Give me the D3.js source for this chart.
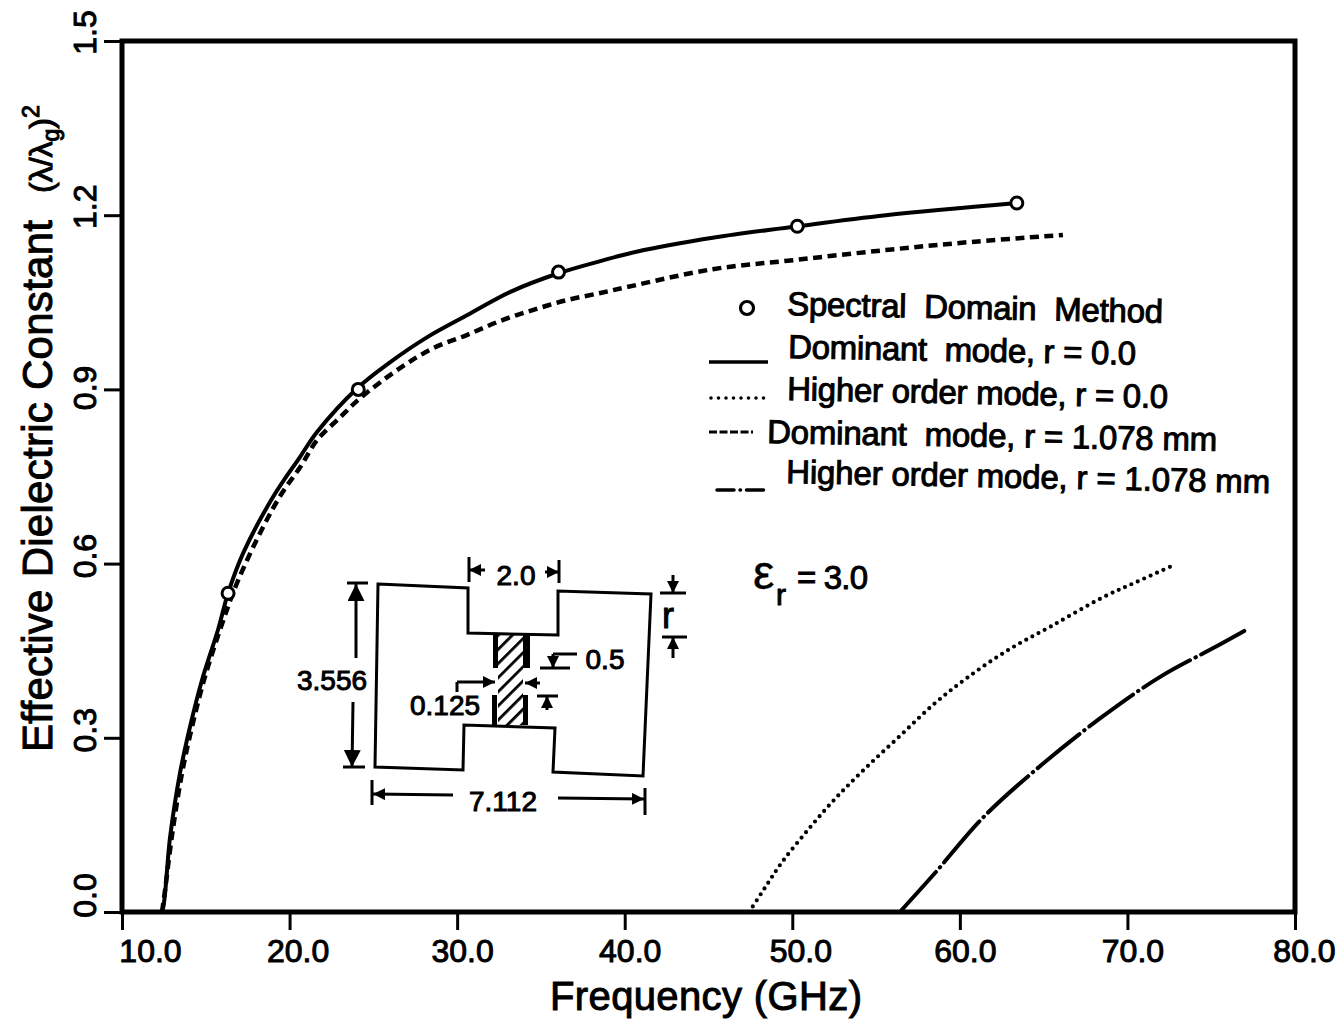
<!DOCTYPE html>
<html>
<head>
<meta charset="utf-8">
<script src="https://cdn.jsdelivr.net/npm/d3@7"></script>
<style>
  html, body { margin: 0; background: #fff; }
  text { font-family: "Liberation Sans", Arial, sans-serif; fill: #000; stroke: #000; stroke-width: 1px; white-space: pre; }
</style>
</head>
<body>
<div id="chart"></div>
<script>
//Tick values and labels
var xTicks = [10, 20, 30, 40, 50, 60, 70, 80];
var xTickLabels = ["10.0", "20.0", "30.0", "40.0", "50.0", "60.0", "70.0", "80.0"];
var yTicks = [0, 0.3, 0.6, 0.9, 1.2, 1.5];
var yTickLabels = ["0.0", "0.3", "0.6", "0.9", "1.2", "1.5"];

//Values, frequency in GHz and effective dielectric constant
var dominantR0Freq = [12.33, 12.45, 12.87, 13.46, 14.06, 14.78, 15.73, 16.33, 17.23, 19.02, 20.63, 21.65, 24.04, 26.01, 28.22, 30.61, 33.18, 36.05, 38.55, 40.7, 45.25, 50.32, 55.58, 63.41];
var dominantR0Value = [0, 0.007, 0.129, 0.239, 0.319, 0.4, 0.486, 0.549, 0.618, 0.715, 0.784, 0.827, 0.902, 0.947, 0.99, 1.028, 1.068, 1.1, 1.121, 1.137, 1.161, 1.181, 1.2, 1.221];

var dominantR1Freq = [12.39, 12.57, 12.99, 13.58, 14.18, 14.9, 15.85, 16.87, 18.42, 19.56, 20.63, 21.65, 23.02, 24.22, 26.61, 28.58, 30.61, 32.58, 34.55, 36.58, 38.55, 40.1, 45.25, 50.2, 55.58, 60.7, 66.15];
var dominantR1Value = [0, 0.038, 0.133, 0.239, 0.319, 0.4, 0.486, 0.567, 0.663, 0.722, 0.766, 0.813, 0.852, 0.885, 0.937, 0.971, 0.994, 1.018, 1.037, 1.054, 1.066, 1.076, 1.107, 1.123, 1.14, 1.154, 1.166];

var higherR0Freq = [47.43, 48.35, 49.37, 50.98, 52.59, 54.38, 56.42, 58.45, 60.42, 62.87, 65.5, 68.54, 70.51, 72.66];
var higherR0Value = [0, 0.041, 0.085, 0.143, 0.196, 0.248, 0.303, 0.358, 0.403, 0.451, 0.493, 0.542, 0.568, 0.596];

var higherR1Freq = [56.42, 58.45, 61.43, 64.9, 68.3, 71.95, 75.35, 76.97];
var higherR1Value = [0, 0.065, 0.164, 0.254, 0.332, 0.405, 0.458, 0.484];

var spectralFreq = [16.33, 24.1, 36.05, 50.3, 63.4];
var spectralValue = [0.549, 0.9, 1.102, 1.181, 1.221];

var legendLabels = ["Spectral  Domain  Method", "Dominant  mode, r = 0.0", "Higher order mode, r = 0.0", "Dominant  mode, r = 1.078 mm", "Higher order mode, r = 1.078 mm"];

//Sets up the svg and the scales
var width = 1338, height = 1023;
var svg = d3.select("#chart").append("svg").attr("width", width).attr("height", height);
var x = d3.scaleLinear().domain([10, 80]).range([122, 1295]);
var y = d3.scaleLinear().domain([0, 1.5]).range([912, 41]);

//Label nudges, the scanned labels do not sit centred on their ticks
var xLabelShift = [28, 8, 5, 5, 8, 5, 5, 9];
var yLabelShift = [-17, -8, -8, -2, -9, -9];

//Axes
var xAxis = svg.append("g").attr("transform", "translate(0,912)")
  .call(d3.axisBottom(x).tickValues(xTicks).tickSize(18).tickFormat(function(d, i) { return xTickLabels[i]; }));
xAxis.select(".domain").remove();
xAxis.selectAll("line").attr("stroke", "#000").attr("stroke-width", 3);
xAxis.selectAll("text")
  .attr("y", 50).attr("dy", 0).attr("dx", function(d, i) { return xLabelShift[i]; })
  .style("font-size", "32px").style("font-family", null);

var yAxis = svg.append("g").attr("transform", "translate(122,0)")
  .call(d3.axisLeft(y).tickValues(yTicks).tickSize(18).tickFormat(function(d, i) { return yTickLabels[i]; }));
yAxis.select(".domain").remove();
yAxis.selectAll("line").attr("stroke", "#000").attr("stroke-width", 3);
yAxis.selectAll("text")
  .attr("x", 0).attr("y", 0).attr("dy", 0)
  .attr("transform", function(d, i) { return "translate(-26," + yLabelShift[i] + ") rotate(-90)"; })
  .attr("text-anchor", "middle")
  .style("font-size", "32px").style("font-family", null);

//Plot frame
svg.append("rect").attr("x", x(10)).attr("y", y(1.5))
  .attr("width", x(80) - x(10)).attr("height", y(0) - y(1.5))
  .attr("fill", "none").attr("stroke", "#000").attr("stroke-width", 5);

//Curves
var line = d3.line().x(function(d) { return x(d[0]); }).y(function(d) { return y(d[1]); }).curve(d3.curveCatmullRom);
function drawCurve(freq, value, dash, linecap, sw) {
  svg.append("path")
    .attr("d", line(d3.zip(freq, value)))
    .attr("fill", "none").attr("stroke", "#000")
    .attr("stroke-width", sw)
    .attr("stroke-dasharray", dash)
    .attr("stroke-linecap", linecap);
}
drawCurve(dominantR1Freq, dominantR1Value, "9 5.5", "butt", 4.5);
drawCurve(dominantR0Freq, dominantR0Value, null, "butt", 4);
drawCurve(higherR0Freq, higherR0Value, "0 7", "round", 4.2);
drawCurve(higherR1Freq, higherR1Value, "54 6 0.5 6", "round", 4);

svg.selectAll("circle.spectral").data(d3.zip(spectralFreq, spectralValue)).enter().append("circle")
  .attr("class", "spectral")
  .attr("cx", function(d) { return x(d[0]); }).attr("cy", function(d) { return y(d[1]); })
  .attr("r", 6).attr("fill", "#fff").attr("stroke", "#000").attr("stroke-width", 3);

//Axis titles
svg.append("text").attr("x", 550).attr("y", 1010).attr("textLength", 312)
  .style("font-size", "40px").text("Frequency (GHz)");

svg.append("text").attr("transform", "translate(52,752) rotate(-90)").attr("textLength", 532)
  .style("font-size", "42px").text("Effective Dielectric Constant");
var yUnit = svg.append("text").attr("transform", "translate(52,193) rotate(-90)").style("font-size", "32px");
yUnit.append("tspan").text("(λ/λ");
yUnit.append("tspan").attr("dy", 7).style("font-size", "23px").text("g");
yUnit.append("tspan").attr("dy", -7).text(")");
yUnit.append("tspan").attr("dy", -13).style("font-size", "23px").text("2");

//Legend, the page was slightly skewed on the scanner so each row tilts a little
var legendRows = [
  {x: 787, y: 315, end: 1163, tilt: 1.2},
  {x: 788, y: 358, end: 1136, tilt: 1.1},
  {x: 787, y: 400, end: 1168, tilt: 1.2},
  {x: 767, y: 443, end: 1217, tilt: 1.0},
  {x: 786, y: 483, end: 1270, tilt: 1.2}
];
svg.selectAll("text.legend").data(legendLabels).enter().append("text")
  .attr("class", "legend")
  .attr("transform", function(d, i) { var r = legendRows[i]; return "translate(" + r.x + "," + r.y + ") rotate(" + r.tilt + ")"; })
  .attr("textLength", function(d, i) { return legendRows[i].end - legendRows[i].x; })
  .style("font-size", "33px")
  .text(function(d) { return d; });

svg.append("circle").attr("cx", 747).attr("cy", 308).attr("r", 6.5)
  .attr("fill", "#fff").attr("stroke", "#000").attr("stroke-width", 3.2);
var legendKeys = [
  {x1: 709, x2: 768, y: 362, dash: null, cap: "butt", sw: 3.5},
  {x1: 711, x2: 765, y: 398, dash: "0 7.5", cap: "round", sw: 3.6},
  {x1: 709, x2: 753, y: 432, dash: "8 2.5", cap: "butt", sw: 3},
  {x1: 717, x2: 767, y: 490, dash: "17 6 0.5 6", cap: "round", sw: 3.5}
];
legendKeys.forEach(function(k) {
  svg.append("line").attr("x1", k.x1).attr("x2", k.x2).attr("y1", k.y).attr("y2", k.y)
    .attr("stroke", "#000").attr("stroke-width", k.sw)
    .attr("stroke-dasharray", k.dash).attr("stroke-linecap", k.cap);
});

//Epsilon note
svg.append("text").attr("x", 753).attr("y", 589).style("font-size", "48px").style("stroke-width", "0.4px").text("ε");
svg.append("text").attr("x", 776).attr("y", 605).style("font-size", "30px").text("r");
svg.append("text").attr("x", 797).attr("y", 589).attr("textLength", 71).style("font-size", "33px").text("= 3.0");

//Waveguide inset, drawn in its own local frame
var insetX = d3.scaleLinear().domain([0, 276]).range([375, 651]);
var insetY = d3.scaleLinear().domain([0, 192]).range([584, 776]);
var insetLine = d3.line().x(function(d) { return insetX(d[0]); }).y(function(d) { return insetY(d[1]); });

var outline = [[3, 0], [93, 4], [93, 49], [183, 51], [183, 7], [276, 10], [268, 192], [178, 188], [180, 144], [89, 141], [88, 186], [0, 183]];
var finBars = [[118, 51, 5, 33], [117, 111, 5, 30], [148, 51, 7, 33], [148, 111, 5, 30]];
var hatchBox = [123, 51, 25, 90];

var defs = svg.append("defs");
defs.append("pattern").attr("id", "hatch").attr("patternUnits", "userSpaceOnUse")
  .attr("width", 10).attr("height", 10).attr("patternTransform", "rotate(45)")
  .append("rect").attr("width", 2.8).attr("height", 10).attr("fill", "#000");
function arrowMarker(id, size) {
  defs.append("marker").attr("id", id).attr("viewBox", "0 0 10 10")
    .attr("refX", 10).attr("refY", 5)
    .attr("markerWidth", size).attr("markerHeight", size).attr("markerUnits", "userSpaceOnUse")
    .attr("orient", "auto")
    .append("path").attr("d", "M0,0L10,5L0,10Z").attr("fill", "#000");
}
arrowMarker("arrow", 12);
arrowMarker("arrowBig", 17);

svg.append("rect").attr("x", insetX(hatchBox[0])).attr("y", insetY(hatchBox[1]))
  .attr("width", hatchBox[2]).attr("height", hatchBox[3]).attr("fill", "url(#hatch)");
svg.selectAll("rect.fin").data(finBars).enter().append("rect")
  .attr("class", "fin")
  .attr("x", function(d) { return insetX(d[0]); }).attr("y", function(d) { return insetY(d[1]); })
  .attr("width", function(d) { return d[2]; }).attr("height", function(d) { return d[3]; })
  .attr("fill", "#000");
svg.append("path").attr("d", insetLine(outline) + "Z")
  .attr("fill", "none").attr("stroke", "#000").attr("stroke-width", 3);

//Dimension lines, last field picks the arrow head
var dimLines = [
  [-28, -1, -7, -1, ""], [-19, 14, -19, 0, "arrowBig"], [-19, 14, -19, 74, ""],
  [-22, 118, -23, 183, "arrowBig"], [-32, 183, -10, 183, ""],
  [94, -27, 94, -2, ""], [110, -14, 94, -14, "arrow"],
  [184, -24, 184, -1, ""], [170, -12, 184, -12, "arrow"],
  [285, 9, 311, 9, ""], [298, -9, 298, 9, "arrow"],
  [287, 53, 312, 53, ""], [298, 74, 298, 53, "arrow"],
  [202, 70, 178, 70, ""], [178, 70, 178, 84, "arrow"], [165, 84, 195, 84, ""],
  [162, 112, 183, 112, ""], [172, 126, 172, 112, "arrow"],
  [82, 98, 120, 98, "arrow"], [82, 98, 82, 108, ""], [165, 99, 150, 99, "arrow"],
  [-3, 196, -3, 221, ""], [78, 211, -2, 210, "arrow"],
  [183, 214, 269, 215, "arrow"], [270, 204, 270, 231, ""]
];
svg.selectAll("line.dim").data(dimLines).enter().append("line")
  .attr("class", "dim")
  .attr("x1", function(d) { return insetX(d[0]); }).attr("y1", function(d) { return insetY(d[1]); })
  .attr("x2", function(d) { return insetX(d[2]); }).attr("y2", function(d) { return insetY(d[3]); })
  .attr("stroke", "#000").attr("stroke-width", 3)
  .attr("marker-end", function(d) { return d[4] ? "url(#" + d[4] + ")" : null; });

var insetLabels = ["2.0", "r", "0.5", "3.556", "0.125", "7.112"];
var insetLabelAt = [[141, 1], [293, 44], [230, 85], [-43, 106], [70, 131], [128, 227]];
svg.selectAll("text.inset").data(insetLabels).enter().append("text")
  .attr("class", "inset")
  .attr("x", function(d, i) { return insetX(insetLabelAt[i][0]); })
  .attr("y", function(d, i) { return insetY(insetLabelAt[i][1]); })
  .attr("text-anchor", "middle")
  .style("font-size", function(d) { return d === "r" ? "36px" : "28px"; })
  .text(function(d) { return d; });
</script>
</body>
</html>
